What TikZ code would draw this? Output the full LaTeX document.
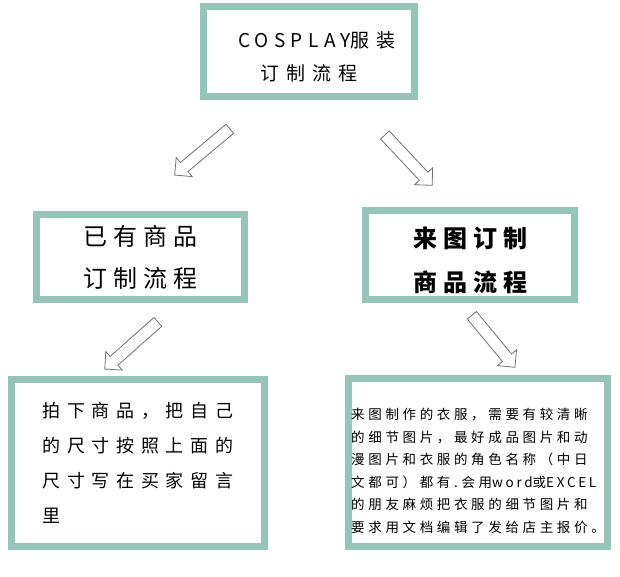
\documentclass[tikz,border=0pt]{standalone}
\usepackage{fontspec}
\setmainfont{Noto Sans CJK SC}
\usepackage{xcolor}
\definecolor{sage}{HTML}{96C4B8}
\definecolor{arrowgray}{HTML}{707070}
\usetikzlibrary{shapes.arrows}

\begin{document}
\begin{tikzpicture}[
    x=1pt, y=-1pt,
    flow_box/.style={draw=sage, line width=7pt, fill=white, inner sep=0pt, align=center},
    note_box/.style={draw=sage, line width=7pt, fill=white, inner sep=0pt, align=left},
    hollow_arrow/.style={single arrow, draw=arrowgray, line width=0.8pt, fill=white,
        inner sep=5.5pt, single arrow head extend=6.5pt, minimum width=24pt}
]
  \useasboundingbox (0,0) rectangle (620,577);

  % Title box
  \node[flow_box, minimum width=211pt, minimum height=90pt,
        font={\fontsize{19}{33}\selectfont\addfontfeature{LetterSpace=38}}]
        (title) at (309,51.5) {\rule{0pt}{26pt}\hspace*{16pt}{\addfontfeature{LetterSpace=28}COSPLAY}服装\\订制流程};

  % Second row
  \node[flow_box, minimum width=208pt, minimum height=85pt,
        font={\fontsize{24}{42}\selectfont\addfontfeature{LetterSpace=25}}]
        (stock) at (140.5,257) {已有商品\\订制流程};
  \node[flow_box, minimum width=209pt, minimum height=89pt,
        font={\fontsize{24}{44}\selectfont\bfseries\addfontfeature{LetterSpace=25}}]
        (custom) at (470,255) {\rule{0pt}{31pt}来图订制\\商品流程};

  % Detail boxes
  \node[note_box, minimum width=253pt, minimum height=167pt,
        font={\fontsize{18}{35}\selectfont\addfontfeature{LetterSpace=37}}]
        (stock_note) at (138,463) {拍下商品，把自己\\的尺寸按照上面的\\尺寸写在买家留言\\里};
  \node[note_box, minimum width=259pt, minimum height=168pt,
        font={\fontsize{13.5}{22.5}\selectfont\addfontfeature{LetterSpace=27}}]
        (custom_note) at (478,462.5) {\rule{0pt}{28pt}来图制作的衣服，需要有较清晰\\的细节图片，最好成品图片和动\\漫图片和衣服的角色名称（中日\\文都可）都有.会用{\addfontfeature{LetterSpace=20}word}或{\addfontfeature{LetterSpace=20}EXCEL}\\的朋友麻烦把衣服的细节图片和\\要求用文档编辑了发给店主报价。};

  % Hollow arrows
  \node[hollow_arrow, minimum height=72pt, rotate=220] (to_stock) at (204.5,150) {};
  \node[hollow_arrow, minimum height=69pt, rotate=-46.8] (to_custom) at (406.5,158) {};
  \node[hollow_arrow, minimum height=71pt, rotate=221.6] (to_stock_note) at (133.5,343.5) {};
  \node[hollow_arrow, minimum height=67.5pt, rotate=-50.4] (to_custom_note) at (491.5,339) {};

\end{tikzpicture}
\end{document}
